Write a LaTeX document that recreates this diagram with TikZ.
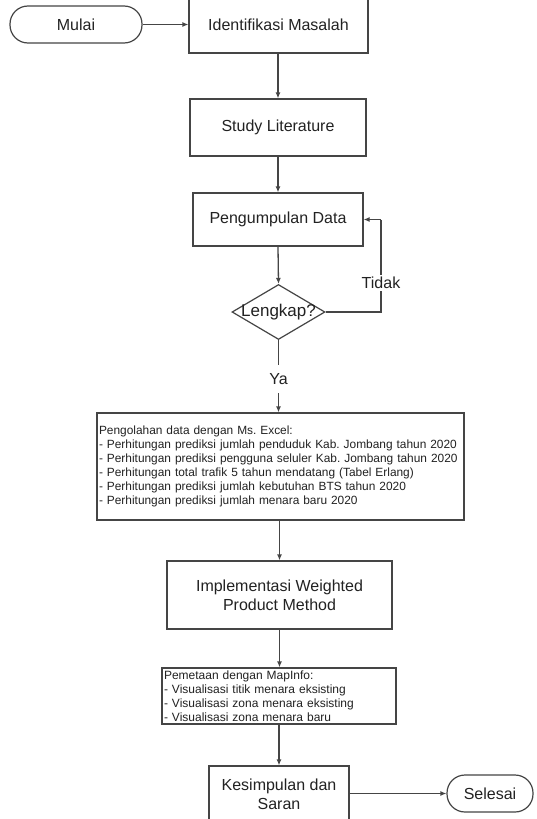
\documentclass[tikz,border=0pt]{standalone}
\usepackage{fontspec}
\setmainfont{Liberation Sans}
\usetikzlibrary{shapes.geometric,arrows.meta}
\definecolor{ln}{HTML}{454545}
\definecolor{tx}{HTML}{222222}
\frenchspacing
\tikzset{
  every node/.style={text=tx},
  procbox/.style={draw=ln, line width=1.2pt, fill=white, inner sep=0pt, font=\fontsize{16}{19}\selectfont, align=center},
  listbox/.style={draw=ln, line width=1.2pt, fill=white, inner xsep=2pt, inner ysep=0pt, align=left},
  term/.style={draw=ln, line width=1.2pt, fill=white, rounded corners=18pt, inner sep=0pt, font=\fontsize{16}{19}\selectfont},
  decision/.style={draw=ln, line width=1.2pt, diamond, inner sep=0pt},
  conn/.style={draw=ln, line width=1.3pt, -{Latex[length=6pt,width=5pt]}},
  plain/.style={draw=ln, line width=1.3pt},
  lbl/.style={fill=white, inner sep=2pt, font=\fontsize{16}{19}\selectfont}
}
\begin{document}
\begin{tikzpicture}[x=1pt,y=-1pt]
\useasboundingbox (0,0) rectangle (537,819);
\fill[white] (0,0) rectangle (537,819);

\node[term, minimum width=132pt, minimum height=37pt] (mulai) at (76,24.5) {Mulai};
\node[procbox, minimum width=179pt, minimum height=57pt] (ident) at (278.5,24.5) {Identifikasi Masalah};
\node[procbox, minimum width=176pt, minimum height=57pt] (study) at (278,127.5) {Study Literature};
\node[procbox, minimum width=170pt, minimum height=53pt] (kumpul) at (278,219.5) {Pengumpulan Data};
\node[decision, minimum width=93pt, minimum height=55pt] (dec) at (278.5,312) {};
\node[font=\fontsize{17}{20}\selectfont, inner sep=0pt] (declbl) at (dec.center) {Lengkap?};
\node[listbox, font=\fontsize{11.9}{14}\selectfont, minimum width=367pt, minimum height=107pt, text width=363pt] (olah) at (280.5,466.5)
 {Pengolahan data dengan Ms. Excel:\\
  - Perhitungan prediksi jumlah penduduk Kab. Jombang tahun 2020\\
  - Perhitungan prediksi pengguna seluler Kab. Jombang tahun 2020\\
  - Perhitungan total trafik 5 tahun mendatang (Tabel Erlang)\\
  - Perhitungan prediksi jumlah kebutuhan BTS tahun 2020\\
  - Perhitungan prediksi jumlah menara baru 2020};
\node[procbox, minimum width=225pt, minimum height=68pt] (wpm) at (279.5,595) {Implementasi Weighted\\Product Method};
\node[listbox, font=\fontsize{12}{14}\selectfont, minimum width=234pt, minimum height=56pt, text width=230pt] (peta) at (279,696)
 {Pemetaan dengan MapInfo:\\
  - Visualisasi titik menara eksisting\\
  - Visualisasi zona menara eksisting\\
  - Visualisasi zona menara baru};
\node[procbox, minimum width=140pt, minimum height=57pt] (simpul) at (279,794.5) {Kesimpulan dan\\Saran};
\node[term, minimum width=86pt, minimum height=37pt] (selesai) at (490,793.5) {Selesai};

\coordinate (loopa) at (381,312);
\coordinate (loopb) at (381,219.5);

\draw[conn] (mulai.east) -- (ident.west |- mulai.east);
\draw[conn] (ident.south -| study.north) -- (study.north);
\draw[conn] (study.south) -- (kumpul.north);
\draw[conn] (kumpul.south) -- (dec.north);
\draw[plain] (dec.east) -- (loopa) -- (loopb);
\draw[conn] (loopb) -- (kumpul.east);
\node[lbl] (tidak) at (381,283) {Tidak};
\draw[conn] (dec.south) -- (dec.south |- olah.north);
\node[lbl, minimum height=28pt] (ya) at (278.5,379) {Ya};
\draw[conn] (wpm.north |- olah.south) -- (wpm.north);
\draw[conn] (wpm.south) -- (wpm.south |- peta.north);
\draw[conn] (peta.south) -- (peta.south |- simpul.north);
\draw[conn] (simpul.east |- selesai.west) -- (selesai.west);
\end{tikzpicture}
\end{document}
